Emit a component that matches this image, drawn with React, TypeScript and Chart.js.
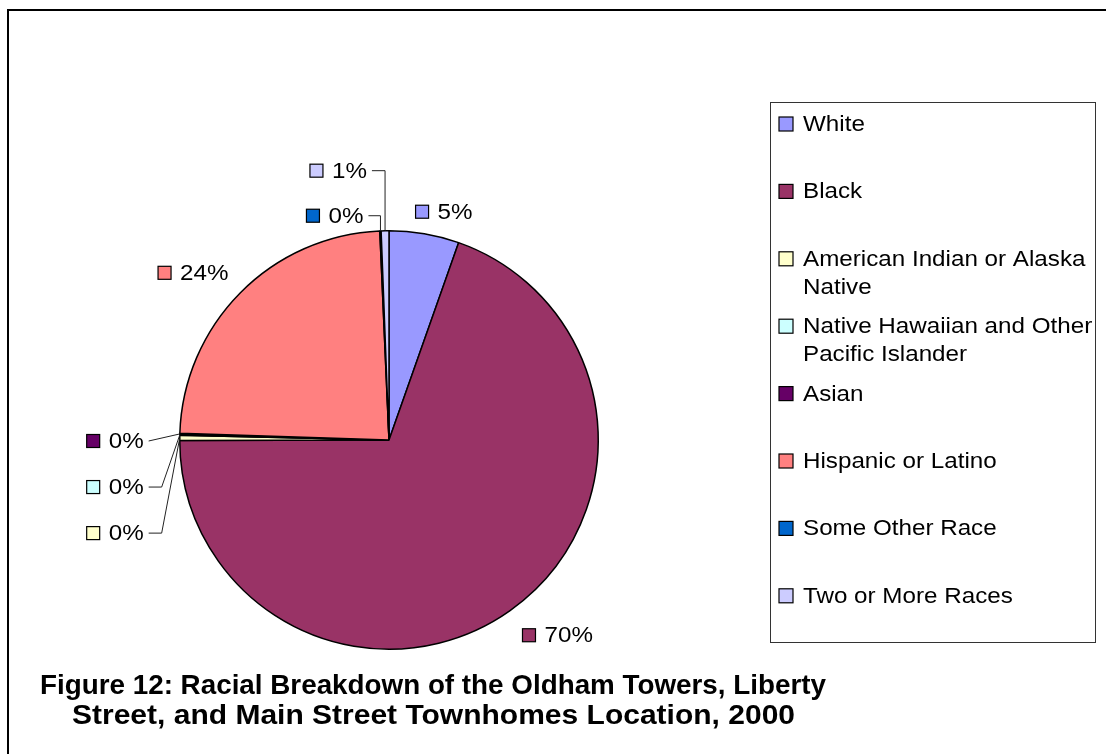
import React, { useEffect, useRef } from "react";
import { Chart, registerables } from "chart.js";

Chart.register(...registerables);

// ---- data ----
const categories: string[] = [
  "White",
  "Black",
  "American Indian or Alaska Native",
  "Native Hawaiian and Other Pacific Islander",
  "Asian",
  "Hispanic or Latino",
  "Some Other Race",
  "Two or More Races",
];
const shares: number[] = [5.4, 69.6, 0.4, 0.05, 0.1, 23.8, 0.1, 0.6];
const sliceColors: string[] = [
  "#9999FF",
  "#993366",
  "#FFFFCC",
  "#CCFFFF",
  "#660066",
  "#FF8080",
  "#0066CC",
  "#CCCCFF",
];
const titleLines: string[] = [
  "Figure 12: Racial Breakdown of the Oldham Towers, Liberty",
  "Street, and Main Street Townhomes Location, 2000",
];

// ---- label layout (offsets from pie centre, in radius units) ----
type LabelLayout = { dx: number; dy: number; leader: "none" | "vertical" | "elbow" | "straight" };
const labelLayout: LabelLayout[] = [
  { dx: 55 / 209, dy: -228 / 209, leader: "none" },
  { dx: 168.5 / 209, dy: 195 / 209, leader: "none" },
  { dx: -273.5 / 209, dy: 93 / 209, leader: "elbow" },
  { dx: -273.5 / 209, dy: 47 / 209, leader: "elbow" },
  { dx: -273.5 / 209, dy: 1 / 209, leader: "straight" },
  { dx: -195.5 / 209, dy: -167 / 209, leader: "none" },
  { dx: -54 / 209, dy: -224 / 209, leader: "vertical" },
  { dx: -50.5 / 209, dy: -269 / 209, leader: "vertical" },
];

const FONT = "'Liberation Sans', Arial, sans-serif";
const XS = 1.1; // horizontal stretch of body text

function wrap(ctx: CanvasRenderingContext2D, text: string, maxW: number): string[] {
  const words = text.split(" ");
  const lines: string[] = [];
  let cur = "";
  for (const w of words) {
    const t = cur ? cur + " " + w : w;
    if (ctx.measureText(t).width * XS > maxW && cur) {
      lines.push(cur);
      cur = w;
    } else cur = t;
  }
  if (cur) lines.push(cur);
  return lines;
}

function stretchedText(ctx: CanvasRenderingContext2D, t: string, x: number, y: number) {
  ctx.save();
  ctx.translate(x, y);
  ctx.scale(XS, 1);
  ctx.fillText(t, 0, 0);
  ctx.restore();
}

const decorPlugin = {
  id: "decor",
  afterDraw(chart: any) {
    const ctx: CanvasRenderingContext2D = chart.ctx;
    const W = chart.width;
    const H = chart.height;
    const meta = chart.getDatasetMeta(0);
    const ds = chart.data.datasets[0].data as number[];
    const total = ds.reduce((a, b) => a + b, 0);
    ctx.save();

    // outer frame
    ctx.strokeStyle = "#000";
    ctx.lineWidth = 2;
    ctx.strokeRect(8, 10, W + 20, H + 20);

    // data labels
    ctx.font = `22px ${FONT}`;
    ctx.textBaseline = "middle";
    ctx.textAlign = "left";
    const sw = 13;
    meta.data.forEach((arc: any, i: number) => {
      const { x, y, startAngle, endAngle, outerRadius } = arc.getProps(
        ["x", "y", "startAngle", "endAngle", "outerRadius"],
        true
      );
      const lay = labelLayout[i];
      const txt = Math.round((ds[i] / total) * 100) + "%";
      const tw = ctx.measureText(txt).width * XS;
      const bw = sw + 9 + tw;
      const cx = x + lay.dx * outerRadius;
      const cy = y + lay.dy * outerRadius;
      const left = cx - bw / 2;
      ctx.fillStyle = sliceColors[i];
      ctx.fillRect(left, cy - sw / 2, sw, sw);
      ctx.strokeStyle = "#000";
      ctx.lineWidth = 1.2;
      ctx.strokeRect(left, cy - sw / 2, sw, sw);
      ctx.fillStyle = "#000";
      stretchedText(ctx, txt, left + sw + 9, cy + 1);

      if (lay.leader !== "none") {
        const mid = (startAngle + endAngle) / 2;
        const px = x + Math.cos(mid) * outerRadius;
        const py = y + Math.sin(mid) * outerRadius;
        const sx = left + bw + 5;
        ctx.beginPath();
        ctx.strokeStyle = "#222";
        ctx.lineWidth = 1;
        ctx.moveTo(sx, cy);
        if (lay.leader === "vertical") {
          ctx.lineTo(px, cy);
          ctx.lineTo(px, py);
        } else if (lay.leader === "elbow") {
          ctx.lineTo(sx + 13, cy);
          ctx.lineTo(px, py);
        } else {
          ctx.lineTo(px, py);
        }
        ctx.stroke();
      }
    });

    // legend
    const lx = 770.5;
    const ly = 102.5;
    const lw = 325;
    const lh = 540;
    ctx.strokeStyle = "#333";
    ctx.lineWidth = 1;
    ctx.strokeRect(lx, ly, lw, lh);
    ctx.font = `22px ${FONT}`;
    const legendSw = 14;
    categories.forEach((name, i) => {
      const ty = 124 + i * 67.4;
      ctx.fillStyle = sliceColors[i];
      ctx.fillRect(779, ty - legendSw / 2, legendSw, legendSw);
      ctx.strokeStyle = "#000";
      ctx.lineWidth = 1.2;
      ctx.strokeRect(779, ty - legendSw / 2, legendSw, legendSw);
      ctx.fillStyle = "#000";
      const lines = wrap(ctx, name, 292);
      lines.forEach((ln, k) => stretchedText(ctx, ln, 803, ty + 1 + k * 28));
    });

    // title
    ctx.font = `bold 28px ${FONT}`;
    ctx.textAlign = "left";
    ctx.textBaseline = "alphabetic";
    const targets = [
      { cx: 433, base: 694, width: 786 },
      { cx: 433.5, base: 724, width: 723 },
    ];
    titleLines.forEach((t, k) => {
      const m = ctx.measureText(t).width;
      const tg = targets[k];
      ctx.save();
      ctx.translate(tg.cx - tg.width / 2, tg.base);
      ctx.scale(tg.width / m, 1);
      ctx.fillText(t, 0, 0);
      ctx.restore();
    });

    ctx.restore();
  },
};

export default function App() {
  const ref = useRef<HTMLCanvasElement | null>(null);
  useEffect(() => {
    if (!ref.current) return;
    const chart = new Chart(ref.current, {
      type: "pie",
      data: {
        labels: categories,
        datasets: [
          {
            data: shares,
            backgroundColor: sliceColors,
            borderColor: "#000",
            borderWidth: 1.5,
          },
        ],
      },
      options: {
        responsive: false,
        animation: false,
        events: [],
        layout: { padding: { left: 179, right: 507, top: 230, bottom: 104 } },
        plugins: {
          legend: { display: false },
          tooltip: { enabled: false },
          title: { display: false },
        },
      },
      plugins: [decorPlugin],
    });
    return () => chart.destroy();
  }, []);
  return (
    <div style={{ position: "absolute", left: 0, top: 0, width: 1106, height: 754, background: "#fff" }}>
      <canvas ref={ref} width={1106} height={754} style={{ display: "block" }} />
    </div>
  );
}
